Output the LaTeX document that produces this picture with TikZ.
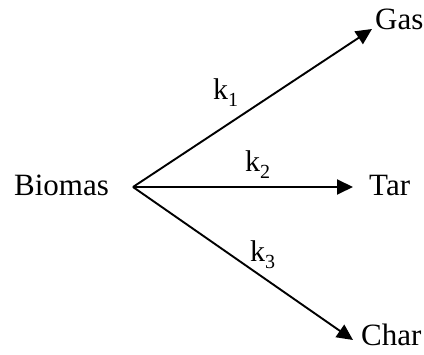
\documentclass[tikz,border=0pt]{standalone}
\usepackage{fontspec}
\setmainfont{Liberation Serif}
\usetikzlibrary{arrows.meta}
\newcommand{\ksub}[1]{k\raisebox{-7pt}{\fontsize{20}{20}\selectfont #1}}
\tikzset{
  lbl/.style={inner sep=0pt, anchor=base west, font=\fontsize{31}{31}\selectfont},
  klbl/.style={inner sep=0pt, anchor=base west, font=\fontsize{30}{30}\selectfont},
  flow/.style={line width=1.9pt, -{Triangle[length=16pt,width=15pt]}}
}
\begin{document}
\begin{tikzpicture}[x=1pt,y=-1pt]
\useasboundingbox (0,0) rectangle (424,355);
\node[lbl] (bio) at (14,196) {Biomas};
\node[lbl] (gas) at (375,30) {Gas};
\node[lbl] (tar) at (369,196) {Tar};
\node[lbl] (char) at (361,346) {Char};
\coordinate (o) at (133,187);
\coordinate (tg) at (372,29);
\coordinate (tt) at (353,187);
\coordinate (tc) at (353,340);
\draw[flow] (o) -- (tg);
\draw[flow] (o) -- (tt);
\draw[flow] (o) -- (tc);
\node[klbl] (k1) at (213,100) {\ksub{1}};
\node[klbl] (k2) at (245,172) {\ksub{2}};
\node[klbl] (k3) at (250,262) {\ksub{3}};
\end{tikzpicture}
\end{document}
